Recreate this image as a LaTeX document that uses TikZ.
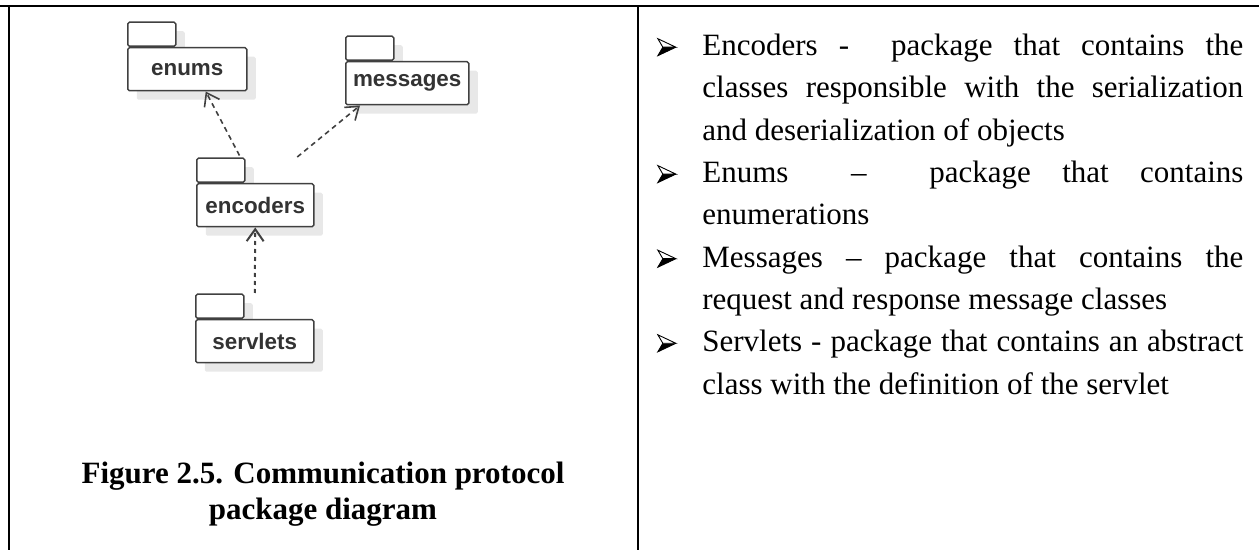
\documentclass[tikz,border=0pt]{standalone}
\usepackage{fontspec}
\setmainfont{Liberation Serif}
\newfontfamily\pkgfont{Liberation Sans}
\usepackage{tikz}
\usetikzlibrary{arrows.meta,calc,shadows}
\tikzset{
  pkg/.style={draw=black!75, line width=0.75pt, fill=white, rounded corners=0.8pt,
    minimum height=21.5pt, inner sep=0pt, text=black!80,
    font=\pkgfont\bfseries\fontsize{11.2}{13}\selectfont,
    drop shadow={shadow xshift=4.5pt, shadow yshift=-4.5pt, fill=black!9, opacity=1}},
  pkgtab/.style={pkg, minimum width=24pt, minimum height=12pt, anchor=south west},
  pkgbody/.style={pkg, anchor=north west, minimum width=#1},
  dep/.style={draw=black!75, line width=0.8pt, dash pattern=on 2.5pt off 2pt,
    -{Straight Barb[length=6pt,width=8.5pt]}},
  rule/.style={line width=1pt}
}
\newcommand{\pkgarrow}{\tikz[baseline=0pt, x=1pt, y=1pt, line width=0.45pt, line join=miter]{
  \fill[black] (2.5,4.25) -- (9,4.25) -- (0,0) -- cycle;
  \draw[fill=white] (0,8.5) -- (9,4.25) -- (2.5,4.25) -- cycle;
  \draw (2.5,4.25) -- (0,0) -- (9,4.25);}}
\newenvironment{pkglist}{\begin{list}{\pkgarrow}{\leftmargin=22.5pt \labelwidth=22.5pt
    \labelsep=0pt \topsep=0pt \partopsep=0pt \parsep=0pt \itemsep=0pt
    \def\makelabel##1{##1\hfil}}}{\end{list}}

\begin{document}
\begin{tikzpicture}[x=0.5pt,y=-0.5pt]
\useasboundingbox (0,0) rectangle (1259,550);
\draw[rule] (0,6) -- (1259,6);
\draw[rule] (9,6) -- (9,550);
\draw[rule] (638,6) -- (638,550);

\node[pkgtab] (enumstab) at (127,47) {};
\node[pkgbody=59.5pt] (enums) at (enumstab.south west) {enums};
\node[pkgtab] (msgstab) at (345,61) {};
\node[pkgbody=61.5pt] (msgs) at (msgstab.south west) {messages};
\node[pkgtab] (enctab) at (196,183) {};
\node[pkgbody=58.5pt] (encoders) at (enctab.south west) {encoders};
\node[pkgtab] (srvtab) at (195,319) {};
\node[pkgbody=59pt] (servlets) at (srvtab.south west) {servlets};

\draw[dep] ([shift={(-3pt,1pt)}]enctab.north east) -- ([xshift=9.25pt]enums.south);
\draw[dep] ($(encoders.north)+(42,-26)$) -- ([xshift=7.5pt]msgs.south west);
\draw[dep, line width=1pt, dash pattern=on 2pt off 2pt] ($(servlets.north)+(0,-26)$) -- (encoders.south);

\node[font=\bfseries\fontsize{15.5}{18}\selectfont, align=center] (caption) at (323,494)
  {Figure 2.5. Communication protocol\\package diagram};

\node[anchor=north west, text width=293pt, inner sep=0pt, align=justify,
  font=\fontsize{15.5}{21.15}\selectfont] (desc) at (657,13) {%
  \begin{pkglist}
  \item Encoders -\ \ package that contains the\linebreak
    classes responsible with the serialization\linebreak
    and deserialization of objects
  \item Enums \ -- \ package that contains\linebreak enumerations
  \item Messages -- package that contains the\linebreak
    request and response message classes
  \item Servlets - package that contains an abstract\linebreak
    class with the definition of the servlet
  \end{pkglist}};
\end{tikzpicture}
\end{document}
